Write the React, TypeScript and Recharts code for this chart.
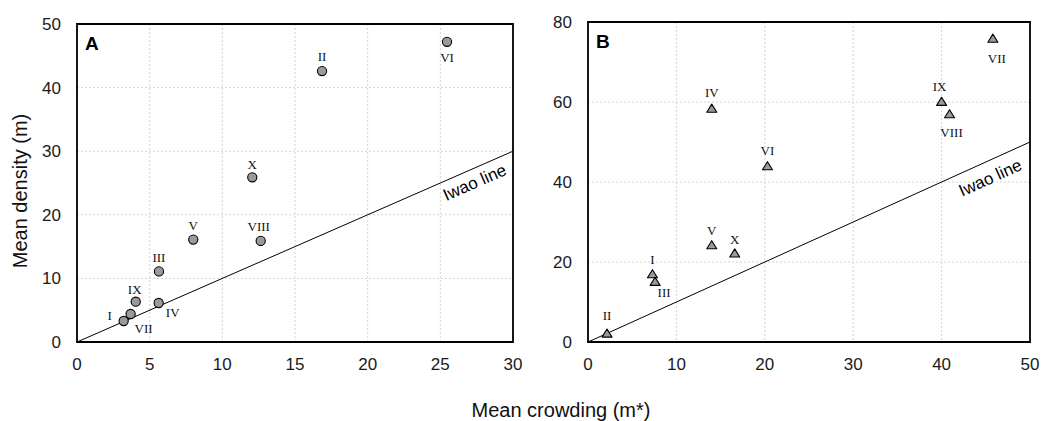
import React from "react";
import {
  CartesianGrid,
  ReferenceArea,
  ReferenceLine,
  Scatter,
  ScatterChart,
  XAxis,
  YAxis,
} from "recharts";

// Sampling dates (roman numerals), same order in both panels
const dates = ["I", "II", "III", "IV", "V", "VI", "VII", "VIII", "IX", "X"];

// Panel A
const crowdingA = [3.21, 16.86, 5.64, 5.62, 8.0, 25.46, 3.69, 12.64, 4.04, 12.06];
const densityA = [3.3, 42.6, 11.1, 6.13, 16.1, 47.2, 4.4, 15.9, 6.34, 25.9];
const xTicksA = [0, 5, 10, 15, 20, 25, 30];
const yTicksA = [0, 10, 20, 30, 40, 50];

// Panel B
const crowdingB = [7.29, 2.15, 7.59, 14.0, 14.0, 20.3, 45.8, 40.9, 40.0, 16.6];
const densityB = [17.0, 2.17, 15.1, 58.4, 24.25, 44.0, 75.9, 57.0, 60.1, 22.2];
const xTicksB = [0, 10, 20, 30, 40, 50];
const yTicksB = [0, 20, 40, 60, 80];

// where each numeral sits relative to its marker (px)
const labelOffsetA: Record<string, [number, number]> = {
  I: [-14, -6], II: [0, -15], III: [0, -14], IV: [14, 9], V: [0, -14],
  VI: [0, 16], VII: [13, 14], VIII: [-2, -14], IX: [-1, -12], X: [0, -13],
};
const labelOffsetB: Record<string, [number, number]> = {
  I: [0, -15], II: [0, -18], III: [9, 11], IV: [0, -16], V: [0, -15],
  VI: [0, -16], VII: [4, 20], VIII: [2, 18], IX: [-2, -15], X: [0, -14],
};

const SANS = "'Liberation Sans', Arial, sans-serif";
const SERIF = "'Liberation Serif', 'Times New Roman', serif";

const toRows = (xs: number[], ys: number[]) =>
  dates.map((name, i) => ({ name, x: xs[i], y: ys[i] }));

const rowsA = toRows(crowdingA, densityA);
const rowsB = toRows(crowdingB, densityB);

function PointLabel({ cx, cy, name, off }: { cx: number; cy: number; name: string; off: [number, number] }) {
  return (
    <text
      x={cx + off[0]}
      y={cy + off[1] + 4.5}
      textAnchor="middle"
      fontFamily={SERIF}
      fontSize={13}
      fill="#111"
    >
      {name}
    </text>
  );
}

const circleShape = (p: any) => (
  <g>
    <circle cx={p.cx} cy={p.cy} r={4.6} fill="#9a9a9a" stroke="#000" strokeWidth={1.1} />
    <PointLabel cx={p.cx} cy={p.cy} name={p.payload.name} off={labelOffsetA[p.payload.name]} />
  </g>
);

const triangleShape = (p: any) => (
  <g>
    <polygon
      points={`${p.cx},${p.cy - 4.3} ${p.cx - 5},${p.cy + 3.8} ${p.cx + 5},${p.cy + 3.8}`}
      fill="#9a9a9a"
      stroke="#000"
      strokeWidth={1.1}
      strokeLinejoin="round"
    />
    <PointLabel cx={p.cx} cy={p.cy} name={p.payload.name} off={labelOffsetB[p.payload.name]} />
  </g>
);

// Iwao line (m = m*) with its label laid along the line
const iwaoShape = (frac: number, below: number) => (p: any) => {
  const { x1, y1, x2, y2 } = p;
  const px = x1 + frac * (x2 - x1);
  const py = y1 + frac * (y2 - y1);
  const angle = (Math.atan2(y2 - y1, x2 - x1) * 180) / Math.PI;
  return (
    <g>
      <line x1={x1} y1={y1} x2={x2} y2={y2} stroke="#000" strokeWidth={1} />
      <text
        transform={`translate(${px},${py}) rotate(${angle})`}
        x={0}
        y={below}
        textAnchor="middle"
        fontFamily={SANS}
        fontSize={17}
        fill="#000"
      >
        Iwao line
      </text>
    </g>
  );
};

const tickStyle = { fill: "#1a1a1a", fontSize: 17, fontFamily: SANS };

function Panel({
  rows, xTicks, yTicks, letter, shape, iwao, margin, yWidth, width,
}: any) {
  const xMax = xTicks[xTicks.length - 1];
  const yMax = yTicks[yTicks.length - 1];
  return (
    <ScatterChart width={width} height={421} margin={margin}>
      <CartesianGrid stroke="#d4d4d4" strokeDasharray="2 2" />
      <XAxis
        type="number"
        dataKey="x"
        domain={[0, xMax]}
        ticks={xTicks}
        axisLine={false}
        tickLine={false}
        tickSize={0}
        tickMargin={16}
        tick={tickStyle}
        height={30}
        interval={0}
      />
      <YAxis
        type="number"
        dataKey="y"
        domain={[0, yMax]}
        ticks={yTicks}
        axisLine={false}
        tickLine={false}
        tickSize={0}
        tickMargin={16}
        tick={tickStyle}
        width={yWidth}
        interval={0}
      />
      <ReferenceLine
        segment={[{ x: 0, y: 0 }, { x: xMax, y: xMax }]}
        ifOverflow="visible"
        shape={iwao}
      />
      <Scatter data={rows} shape={shape} isAnimationActive={false} />
      <ReferenceArea
        x1={0}
        x2={xMax}
        y1={0}
        y2={yMax}
        fill="none"
        fillOpacity={0}
        stroke="#000"
        strokeWidth={1.8}
        ifOverflow="visible"
      />
      <text x={margin.left + yWidth + 8} y={margin.top + 26} fontFamily={SANS} fontWeight="bold" fontSize={19} fill="#000">
        {letter}
      </text>
    </ScatterChart>
  );
}

export default function App() {
  return (
    <div style={{ position: "absolute", left: 0, top: 0, width: 1056, height: 421, background: "#fff" }}>
      <div style={{ position: "absolute", left: 0, top: 0 }}>
        <Panel
          rows={rowsA}
          xTicks={xTicksA}
          yTicks={yTicksA}
          letter="A"
          shape={circleShape}
          iwao={iwaoShape(0.9, 19)}
          margin={{ top: 24, right: 17, bottom: 49, left: 17 }}
          yWidth={60}
          width={530}
        />
      </div>
      <div style={{ position: "absolute", left: 530, top: 0 }}>
        <Panel
          rows={rowsB}
          xTicks={xTicksB}
          yTicks={yTicksB}
          letter="B"
          shape={triangleShape}
          iwao={iwaoShape(0.895, 22)}
          margin={{ top: 22, right: 26, bottom: 49, left: 18 }}
          yWidth={40}
          width={526}
        />
      </div>
      <svg width={1056} height={421} style={{ position: "absolute", left: 0, top: 0, pointerEvents: "none" }}>
        <text x={561} y={417} textAnchor="middle" fontFamily={SANS} fontSize={20} fill="#111">
          Mean crowding (m*)
        </text>
        <text transform="translate(27,191) rotate(-90)" textAnchor="middle" fontFamily={SANS} fontSize={20} fill="#111">
          Mean density (m)
        </text>
      </svg>
    </div>
  );
}
